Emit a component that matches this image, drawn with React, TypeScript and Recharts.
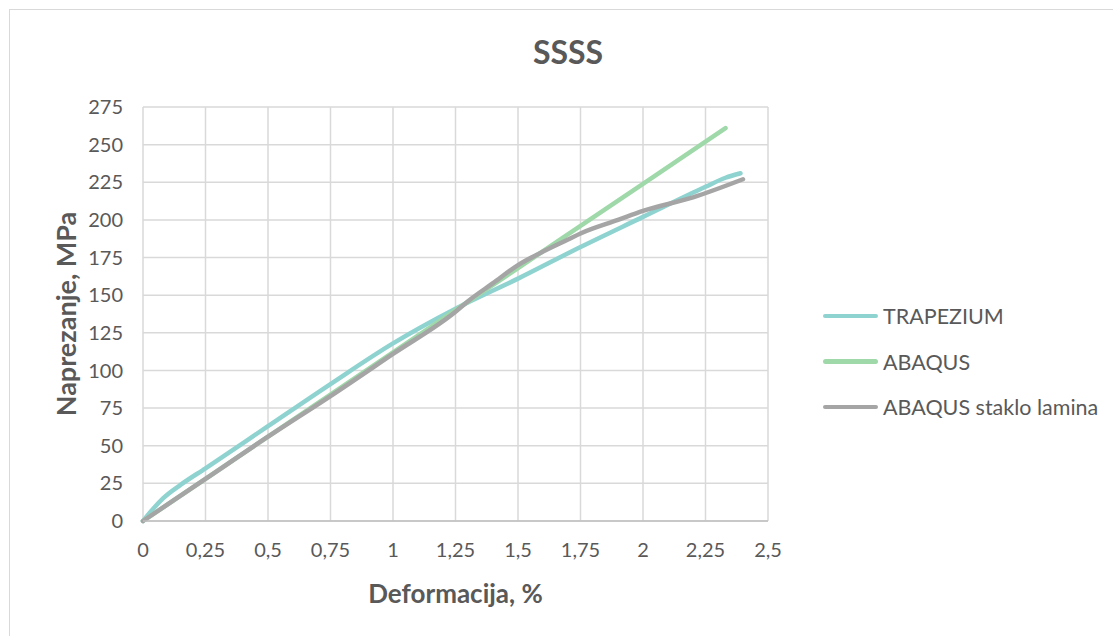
import React from 'react';
import { LineChart, Line, XAxis, YAxis, CartesianGrid, Label } from 'recharts';

const trapeziumX = [0, 0.04, 0.08, 0.15, 0.25, 0.5, 0.75, 1.0, 1.25, 1.5, 1.75, 2.0, 2.25, 2.33, 2.39];
const trapeziumY = [0, 8, 15, 24, 35, 63, 91, 118, 141, 161, 182, 202, 222, 228, 231];

const abaqusX = [0, 0.5, 1.0, 1.5, 2.0, 2.33];
const abaqusY = [0, 56, 112, 168, 224, 261];

const staklo_X = [0, 0.25, 0.5, 0.75, 1.0, 1.25, 1.3, 1.4, 1.5, 1.6, 1.7, 1.75, 1.9, 2.0, 2.2, 2.4];
const staklo_Y = [0, 28, 56, 83, 111, 139, 146, 158, 170, 179, 187, 191, 200, 206, 215, 227];

const xTicks = [0, 0.25, 0.5, 0.75, 1, 1.25, 1.5, 1.75, 2, 2.25, 2.5];
const yTicks = [0, 25, 50, 75, 100, 125, 150, 175, 200, 225, 250, 275];

const seriesNames = ['TRAPEZIUM', 'ABAQUS', 'ABAQUS staklo lamina'];
const seriesColors = ['#8FD3D0', '#9FD9A9', '#A5A5A5'];

const zip = (xs: number[], ys: number[]) => xs.map((x, i) => ({ x, y: ys[i] }));

const series = [
  zip(trapeziumX, trapeziumY),
  zip(abaqusX, abaqusY),
  zip(staklo_X, staklo_Y),
];

const FONT = 'Lato, "Open Sans", sans-serif';
const TEXT = '#595959';

export default function App() {
  return (
    <div style={{ position: 'absolute', left: 0, top: 0, width: 1113, height: 636, background: '#fff', fontFamily: FONT, overflow: 'hidden' }}>
      <div style={{ position: 'absolute', left: 9, top: 9, width: 1120, height: 640, border: '1px solid #d9d9d9', boxSizing: 'border-box' }} />
      <div style={{ position: 'absolute', left: 0, top: 33, width: 1136, textAlign: 'center', fontSize: 32, lineHeight: '38px', fontWeight: 700, color: TEXT }}>SSSS</div>
      <div style={{ position: 'absolute', left: 0, top: 0 }}>
        <LineChart width={1113} height={636} margin={{ top: 107, right: 345, bottom: 75, left: 73 }}>
          <CartesianGrid stroke="#d9d9d9" strokeWidth={1.5} horizontal vertical />
          <XAxis
            dataKey="x"
            type="number"
            domain={[0, 2.5]}
            ticks={xTicks}
            allowDuplicatedCategory={false}
            tickFormatter={(v: number) => String(v).replace('.', ',')}
            tick={{ fill: TEXT, fontSize: 20, fontFamily: FONT }}
            tickLine={false}
            axisLine={{ stroke: '#bfbfbf', strokeWidth: 1.5 }}
            tickMargin={16}
            height={40}
          >
            <Label value="Deformacija, %" position="bottom" offset={24} style={{ fill: TEXT, fontSize: 26, fontWeight: 700, fontFamily: FONT }} />
          </XAxis>
          <YAxis
            dataKey="y"
            type="number"
            domain={[0, 275]}
            ticks={yTicks}
            tick={{ fill: TEXT, fontSize: 20, fontFamily: FONT }}
            tickLine={false}
            axisLine={false}
            tickMargin={14}
            width={70}
          >
            <Label value="Naprezanje, MPa" angle={-90} position="insideLeft" offset={-7} style={{ fill: TEXT, fontSize: 27, fontWeight: 700, fontFamily: FONT, textAnchor: 'middle' }} />
          </YAxis>
          {series.map((d, i) => (
            <Line
              key={seriesNames[i]}
              data={d}
              dataKey="y"
              name={seriesNames[i]}
              type="monotone"
              stroke={seriesColors[i]}
              strokeWidth={4.5}
              strokeLinecap="round"
              dot={false}
              activeDot={false}
              isAnimationActive={false}
            />
          ))}
        </LineChart>
      </div>
      {seriesNames.map((n, i) => (
        <div key={n} style={{ position: 'absolute', left: 823, top: 302 + i * 45.5, height: 28, display: 'flex', alignItems: 'center' }}>
          <div style={{ width: 55, height: 4.5, borderRadius: 3, background: seriesColors[i] }} />
          <span style={{ marginLeft: 5, fontSize: 21.5, color: TEXT, whiteSpace: 'nowrap' }}>{n}</span>
        </div>
      ))}
    </div>
  );
}
